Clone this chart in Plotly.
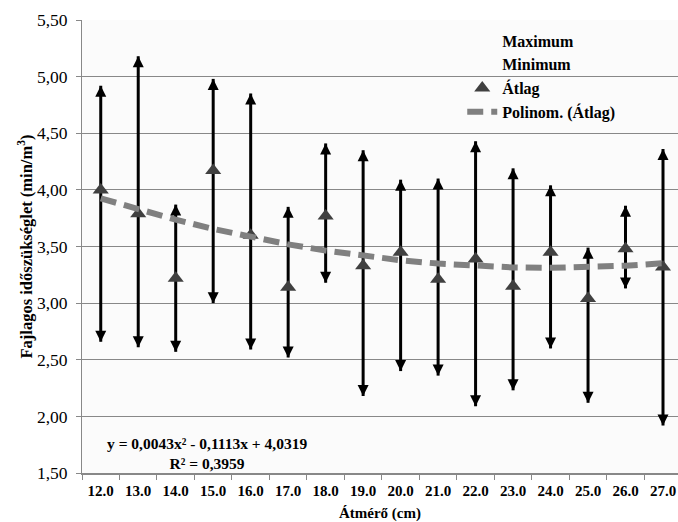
import plotly.graph_objects as go

categories = ["12.0", "13.0", "14.0", "15.0", "16.0", "17.0", "18.0", "19.0",
              "20.0", "21.0", "22.0", "23.0", "24.0", "25.0", "26.0", "27.0"]
maximum = [4.92, 5.18, 3.87, 4.98, 4.85, 3.85, 4.41, 4.35,
           4.09, 4.10, 4.43, 4.19, 4.04, 3.49, 3.86, 4.36]
minimum = [2.66, 2.61, 2.57, 3.00, 2.59, 2.52, 3.18, 2.18,
           2.40, 2.36, 2.09, 2.23, 2.60, 2.12, 3.13, 1.92]
atlag = [4.00, 3.79, 3.22, 4.17, 3.60, 3.14, 3.77, 3.33,
         3.45, 3.21, 3.39, 3.15, 3.45, 3.04, 3.48, 3.32]
trend_coef = [0.0043, -0.1113, 4.0319]  # y = a*x^2 + b*x + c (x = 1..16)
y_ticks = [1.5, 2.0, 2.5, 3.0, 3.5, 4.0, 4.5, 5.0, 5.5]

FONT = "Liberation Serif"

# range lines (min -> max)
lx, ly = [], []
for c, lo, hi in zip(categories, minimum, maximum):
    lx += [c, c, None]
    ly += [lo, hi, None]

trend_x = categories
trend_y = [trend_coef[0] * (i + 1) ** 2 + trend_coef[1] * (i + 1) + trend_coef[2]
           for i in range(len(categories))]

fig = go.Figure()
fig.add_trace(go.Scatter(x=lx, y=ly, mode="lines", line=dict(color="black", width=3),
                         showlegend=False, hoverinfo="skip"))
fig.add_trace(go.Scatter(x=categories, y=maximum, mode="markers", name="Maximum",
                         marker=dict(color="rgba(0,0,0,0)", size=1)))
fig.add_trace(go.Scatter(x=categories, y=minimum, mode="markers", name="Minimum",
                         marker=dict(color="rgba(0,0,0,0)", size=1)))
fig.add_trace(go.Scatter(x=categories, y=atlag, mode="markers", name="Átlag",
                         marker=dict(symbol="triangle-up", size=14, color="#404040")))
fig.add_trace(go.Scatter(x=trend_x, y=trend_y, mode="lines", name="Polinom. (Átlag)",
                         line=dict(color="#808080", width=6, dash="16px,8px")))

annotations = []
for i, (lo, hi) in enumerate(zip(minimum, maximum)):
    annotations.append(dict(x=i, y=hi, xref="x", yref="y", ax=0, ay=12, text="",
                            showarrow=True, arrowhead=2, arrowsize=1, arrowwidth=2.2,
                            arrowcolor="black", standoff=0))
    annotations.append(dict(x=i, y=lo, xref="x", yref="y", ax=0, ay=-12, text="",
                            showarrow=True, arrowhead=2, arrowsize=1, arrowwidth=2.2,
                            arrowcolor="black", standoff=0))

annotations.append(dict(x=0.209, y=0.043, xref="paper", yref="paper",
                        xanchor="center", yanchor="middle",
                        text="<b>y = 0,0043x² - 0,1113x + 4,0319</b><br><b>R² = 0,3959</b>",
                        showarrow=False, align="center",
                        font=dict(family=FONT, size=15.5, color="black")))

fig.update_layout(
    width=678, height=522,
    margin=dict(l=82, r=0, t=20, b=49),
    paper_bgcolor="white",
    plot_bgcolor="#fbfbfb",
    separators=",.",
    font=dict(family=FONT, size=15, color="black"),
    annotations=annotations,
    legend=dict(x=0.638, y=0.9925, xanchor="left", yanchor="top",
                bgcolor="rgba(0,0,0,0)",
                font=dict(family=FONT, size=16, color="black", weight="bold"),
                tracegroupgap=0),
    showlegend=True,
)
fig.update_xaxes(type="category", range=[-0.5, 15.4], automargin=False,
                 tickson="boundaries", ticks="outside", ticklen=5, tickcolor="#888888",
                 showline=True, linecolor="#888888", linewidth=2, showgrid=False,
                 tickprefix="<b>", ticksuffix="</b>", ticklabelstandoff=3,
                 tickfont=dict(family=FONT, size=15, color="black"),
                 title=dict(text="<b>Átmérő (cm)</b>", font=dict(family=FONT, size=15), standoff=14))
fig.update_yaxes(range=[1.5, 5.5], tickvals=y_ticks, tickformat=".2f", automargin=False,
                 ticks="outside", ticklen=5, tickcolor="#888888",
                 showline=True, linecolor="#888888", linewidth=1,
                 showgrid=True, gridcolor="#888888", gridwidth=1, zeroline=False,
                 tickprefix="<b>", ticksuffix="</b>", ticklabelstandoff=5,
                 tickfont=dict(family=FONT, size=17.5, color="black"),
                 title=dict(text="<b>Fajlagos időszükséglet (min/m<sup>3</sup>)</b>",
                            font=dict(family=FONT, size=16.5), standoff=0))

fig.write_html("out.html", config={"displayModeBar": False},
               post_script="document.body.style.margin='0';document.body.style.overflow='hidden';")
